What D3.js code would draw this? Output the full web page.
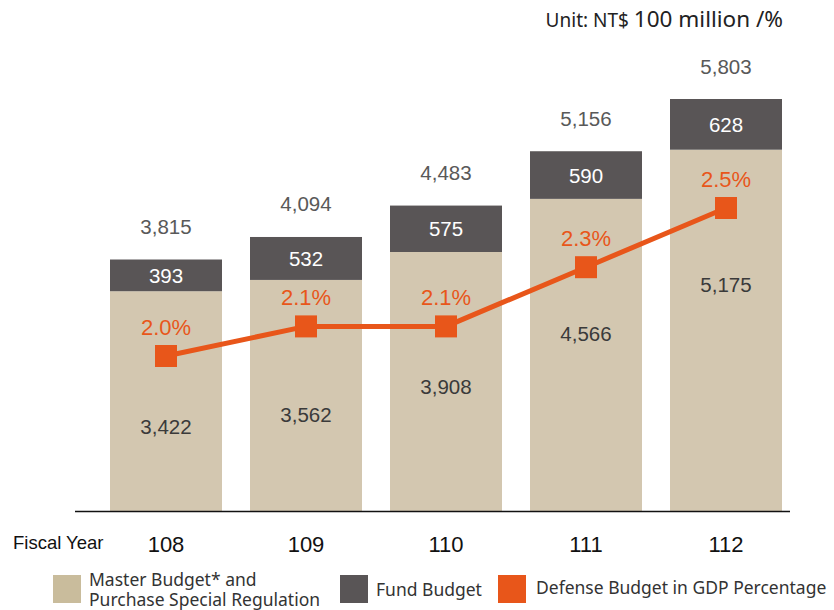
<!DOCTYPE html>
<html lang="en">
<head>
  <meta charset="utf-8">
  <title>Defense Budget</title>
  <script src="https://cdn.jsdelivr.net/npm/d3@7"></script>
  <style>
    body { margin: 0; background: #fff; }
    svg { font-family: "Liberation Sans", Arial, sans-serif; }
  </style>
</head>
<body>
<script>
  // data
  const years = ["108", "109", "110", "111", "112"];
  const master = [3422, 3562, 3908, 4566, 5175];
  const fund = [393, 532, 575, 590, 628];
  const totals = [3815, 4094, 4483, 5156, 5803];
  const gdpPct = [2.0, 2.1, 2.1, 2.3, 2.5];

  const w = 834, h = 610;
  const beige = "#d3c7b0", grey = "#595556", orange = "#e8561a";

  const svg = d3.select("body").append("svg")
    .attr("width", w).attr("height", h);

  const x = d3.scaleBand().domain(years).range([96, 796])
    .paddingInner(0.2).paddingOuter(0.1);
  const y = d3.scaleLinear().domain([700, 5803]).range([511, 99]);
  const yp = d3.scaleLinear().domain([2.0, 2.5]).range([356, 208]);

  const rows = years.map((yr, i) => ({
    yr: yr, master: master[i], fund: fund[i], total: totals[i], pct: gdpPct[i]
  }));
  const cx = d => x(d.yr) + x.bandwidth() / 2;

  // master budget segment
  svg.selectAll("rect.master").data(rows).enter().append("rect")
    .attr("class", "master")
    .attr("x", d => x(d.yr)).attr("width", x.bandwidth())
    .attr("y", d => y(d.master)).attr("height", d => 511 - y(d.master))
    .attr("fill", beige);

  // fund budget segment
  svg.selectAll("rect.fund").data(rows).enter().append("rect")
    .attr("class", "fund")
    .attr("x", d => x(d.yr)).attr("width", x.bandwidth())
    .attr("y", d => y(d.total)).attr("height", d => y(d.master) - y(d.total))
    .attr("fill", grey);

  const fmt = d3.format(",");

  // labels
  svg.selectAll("text.total").data(rows).enter().append("text")
    .attr("x", cx)
    .attr("y", d => y(d.total) - 33)
    .attr("text-anchor", "middle").attr("dominant-baseline", "central")
    .attr("font-size", 20.5).attr("fill", "#595959")
    .text(d => fmt(d.total));

  svg.selectAll("text.fund").data(rows).enter().append("text")
    .attr("x", cx)
    .attr("y", d => (y(d.total) + y(d.master)) / 2)
    .attr("text-anchor", "middle").attr("dominant-baseline", "central")
    .attr("font-size", 20.5).attr("fill", "#fff")
    .text(d => fmt(d.fund));

  svg.selectAll("text.master").data(rows).enter().append("text")
    .attr("x", cx)
    .attr("y", d => y(d.master) + 135)
    .attr("text-anchor", "middle").attr("dominant-baseline", "central")
    .attr("font-size", 20.5).attr("fill", "#3a3a3a")
    .text(d => fmt(d.master));

  // axis line
  svg.append("line")
    .attr("x1", 75).attr("x2", 790).attr("y1", 511.5).attr("y2", 511.5)
    .attr("stroke", "#111").attr("stroke-width", 1.5);

  // GDP line
  const line = d3.line().x(cx).y(d => yp(d.pct));
  svg.append("path").datum(rows)
    .attr("d", line).attr("fill", "none")
    .attr("stroke", orange).attr("stroke-width", 5);

  svg.selectAll("rect.marker").data(rows).enter().append("rect")
    .attr("x", d => cx(d) - 11)
    .attr("y", d => yp(d.pct) - 11)
    .attr("width", 22).attr("height", 22)
    .attr("fill", orange);

  svg.selectAll("text.pct").data(rows).enter().append("text")
    .attr("x", cx)
    .attr("y", d => yp(d.pct) - 29)
    .attr("text-anchor", "middle").attr("dominant-baseline", "central")
    .attr("font-size", 22).attr("fill", orange)
    .text(d => d.pct.toFixed(1) + "%");

  // x axis labels
  svg.selectAll("text.year").data(rows).enter().append("text")
    .attr("x", cx)
    .attr("y", 552)
    .attr("text-anchor", "middle")
    .attr("font-size", 22).attr("fill", "#111")
    .text(d => d.yr);

  svg.append("text")
    .attr("x", 13).attr("y", 549)
    .attr("font-size", 18.5).attr("fill", "#111")
    .text("Fiscal Year");

  // unit
  const unit = svg.append("text").attr("x", 783).attr("y", 27)
    .attr("text-anchor", "end").attr("fill", "#222")
    .attr("font-family", "'Noto Sans', sans-serif");
  unit.append("tspan").attr("font-size", 19).text("Unit: NT$ ");
  unit.append("tspan").attr("font-size", 22.5).text("100 million /%");

  // legend
  const lg = svg.append("g").attr("font-family", "'Noto Sans', sans-serif")
    .attr("font-size", 17.5).attr("fill", "#333");
  lg.append("rect").attr("x", 53).attr("y", 575).attr("width", 28).attr("height", 28).attr("fill", "#c9bc9c");
  const t1 = lg.append("text").attr("y", 586);
  t1.append("tspan").attr("x", 89).text("Master Budget* and");
  t1.append("tspan").attr("x", 89).attr("dy", 20).text("Purchase Special Regulation");
  lg.append("rect").attr("x", 340).attr("y", 575).attr("width", 28).attr("height", 28).attr("fill", grey);
  lg.append("text").attr("x", 376).attr("y", 596).text("Fund Budget");
  lg.append("rect").attr("x", 498).attr("y", 575).attr("width", 28).attr("height", 28).attr("fill", orange);
  lg.append("text").attr("x", 536).attr("y", 594).text("Defense Budget in GDP Percentage");
</script>
</body>
</html>
